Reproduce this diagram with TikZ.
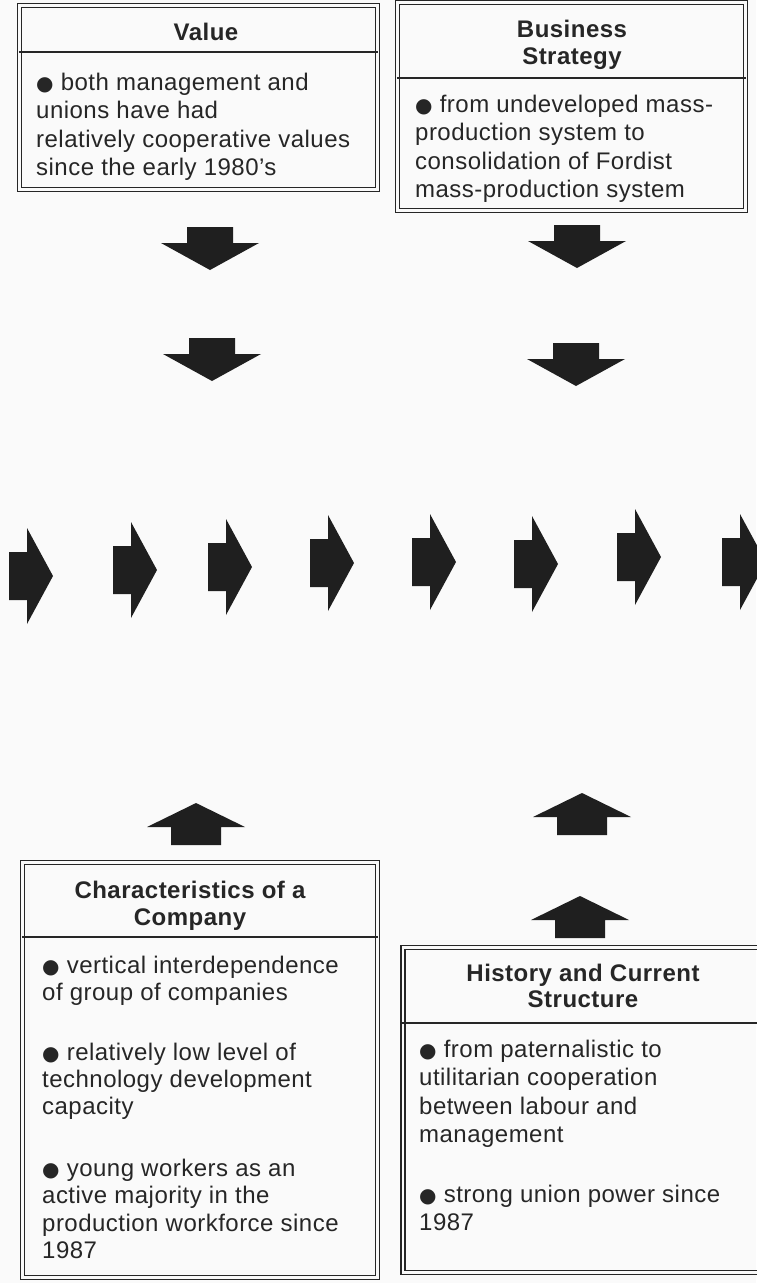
\documentclass[tikz,border=0pt]{standalone}
\usepackage{fontspec}
\setmainfont{Liberation Sans}[LetterSpace=2]
\newfontfamily\dotfont{DejaVu Sans}
\newcommand{\blob}{{\dotfont\fontsize{20}{28}\selectfont ●}}

\begin{document}
\begin{tikzpicture}[x=1pt, y=-1pt,
    frame/.style={draw=black!85, line width=1.5pt, double=black!2, double distance=2.2pt, inner sep=0pt},
    head/.style={font=\fontsize{24}{27}\selectfont\bfseries, align=center, inner sep=0pt, text=black!85},
    body/.style={font=\fontsize{24}{28.5}\selectfont, align=left, inner sep=0pt, anchor=north west, text=black!85},
    rule/.style={draw=black!85, line width=1.3pt},
    blk/.style={fill=black!88}
]
\fill[black!2] (0,0) rectangle (756,1283);
\useasboundingbox (0,0) rectangle (756,1283);

% top boxes
\node[frame, minimum width=358pt, minimum height=184pt] (valbox) at (198.5,97.5) {};
\node[frame, minimum width=348pt, minimum height=208pt] (bizbox) at (571.5,106.5) {};
\draw[rule] (valbox.west |- 0,52) -- (valbox.east |- 0,52);
\draw[rule] (bizbox.west |- 0,78) -- (bizbox.east |- 0,78);

\node[head, anchor=base] (valtitle) at (206,40) {Value};
\node[head, anchor=north] (biztitle) at (572,18) {\strut Business\\Strategy};
\node[body] (valtext) at (36,70) {\strut\blob\ both management and\\unions have had\\relatively cooperative values\\since the early 1980's};
\node[body] (biztext) at (415,92) {\strut\blob\ from undeveloped mass-\\production system to\\consolidation of Fordist\\mass-production system};

% bottom boxes
\node[frame, minimum width=355pt, minimum height=415pt] (charbox) at (200,1070) {};
\node[frame, minimum width=360pt, minimum height=325pt] (histbox) at (583,1110) {};
\draw[rule] (charbox.west |- 0,937) -- (charbox.east |- 0,937);
\draw[rule] (histbox.west |- 0,1023) -- (histbox.east |- 0,1023);

\node[head, anchor=north] (chartitle) at (190,879) {\strut Characteristics of a\\Company};
\node[head, anchor=north, font=\fontsize{24}{26}\selectfont\bfseries] (histtitle) at (583,963) {\strut History and Current\\Structure};
\node[body, font=\fontsize{24}{27.4}\selectfont] (chartext) at (42,954) {\strut\blob\ vertical interdependence\\of group of companies\\[32pt]\blob\ relatively low level of\\technology development\\capacity\\[34pt]\blob\ young workers as an\\active majority in the\\production workforce since\\1987};
\node[body] (histtext) at (419,1037) {\strut\blob\ from paternalistic to\\utilitarian cooperation\\between labour and\\management\\[31pt]\blob\ strong union power since\\1987};

% block arrows
\foreach \x/\y in {210/227, 212/338, 577/225, 576/343}
  \fill[blk, shift={(\x,\y)}] (-23,0) -- (23,0) -- (23,16) -- (49,16) -- (0,43) -- (-49,16) -- (-23,16) -- cycle;
\foreach \x/\y in {9/576, 113/570, 208/567, 310/563, 412/562, 514/564, 617/557, 722/562}
  \fill[blk, shift={(\x,\y)}] (0,-24) -- (18,-24) -- (18,-48) -- (44,0) -- (18,48) -- (18,24) -- (0,24) -- cycle;
\foreach \x/\y in {196/845, 582/835, 580/938}
  \fill[blk, shift={(\x,\y)}] (-25,0) -- (25,0) -- (25,-18) -- (49,-18) -- (0,-42) -- (-49,-18) -- (-25,-18) -- cycle;
\end{tikzpicture}
\end{document}
